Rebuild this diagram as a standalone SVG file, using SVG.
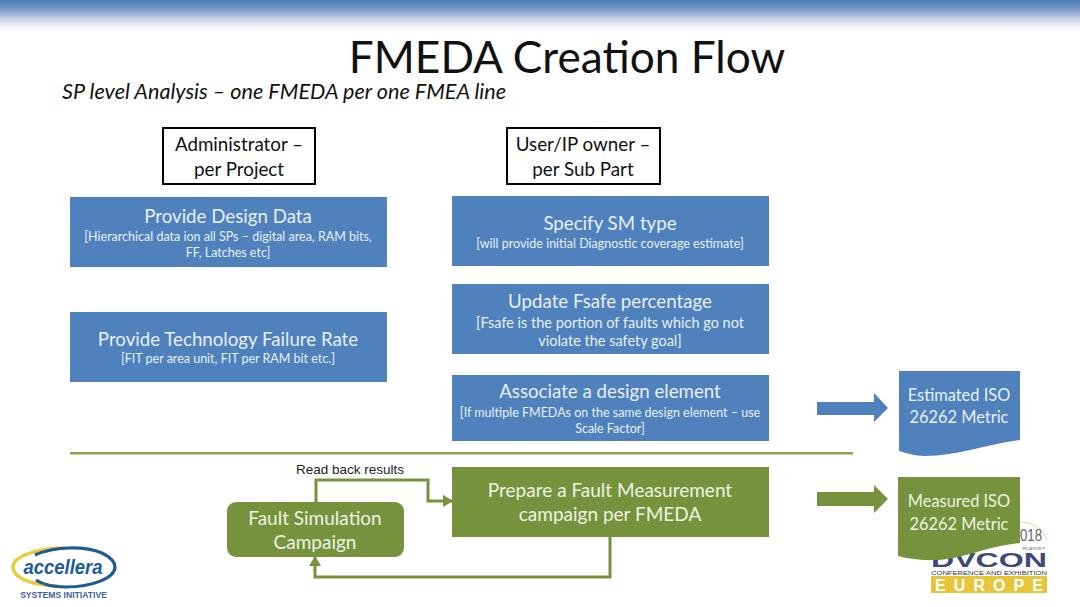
<svg xmlns="http://www.w3.org/2000/svg" width="1080" height="607" viewBox="0 0 1080 607">
<style>
.t{font-family:Lato,"Liberation Sans",sans-serif;text-anchor:middle}
.a{font-family:"Liberation Sans",sans-serif;text-anchor:middle}
.h{font-size:18.7px;fill:#e8eff8}
.g{font-size:19px;fill:#eef3e4}
.s{font-size:12.5px;fill:#e8eff8}
.f{font-size:14.5px;fill:#e8eff8}
.k{font-size:18.8px;fill:#111}
.m{font-size:16.4px}
.box{fill:#4f81bd}
.grn{fill:#76923c}
.lab{fill:#fff;stroke:#000;stroke-width:2}
.conn{fill:none;stroke:#76923c;stroke-width:3}
</style>
<defs>
<linearGradient id="top" x1="0" y1="0" x2="0" y2="1">
<stop offset="0" stop-color="#4a7dbd"/><stop offset=".3" stop-color="#7f9cc8"/><stop offset=".55" stop-color="#c3cde2"/><stop offset=".8" stop-color="#f1f3f8"/><stop offset="1" stop-color="#fff"/>
</linearGradient>
<marker id="ah" markerUnits="userSpaceOnUse" markerWidth="10" markerHeight="12" refX="9" refY="6" orient="auto"><path d="M0 0L10 6L0 12Z" fill="#76923c"/></marker>
</defs>
<rect width="1080" height="607" fill="#fff"/>
<rect width="1080" height="33" fill="url(#top)"/>
<text class="t" x="567" y="73" font-size="44.2" fill="#111">FMEDA Creation Flow</text>
<text x="62" y="99" font-family="Lato,'Liberation Sans',sans-serif" font-style="italic" font-size="21.6" fill="#111">SP level Analysis – one FMEDA per one FMEA line</text>
<rect x="70" y="452" width="783" height="2.5" fill="#8fa552"/>

<g id="logo-accellera">
<path d="M58 586C28 585 13 577 13 567C13 556 38 548 66 548" fill="none" stroke="#e6cf3e" stroke-width="3.5"/>
<path d="M35 555C55 546 85 546 102 553C112 558 115 563 115 567C115 578 92 587 66 587C52 587 42 584 36 580" fill="none" stroke="#1d5a96" stroke-width="3.2"/>
<text class="a" x="63" y="574" font-size="20.5" font-weight="700" font-style="italic" fill="#1d5a96" textLength="79" lengthAdjust="spacingAndGlyphs">accellera</text>
<text class="a" x="63.500" y="598" font-size="8.6" font-weight="700" fill="#3d6596">SYSTEMS INITIATIVE</text>
</g>
<g id="logo-dvcon">
<path d="M1012 522C1032 520 1044 528 1047 541" fill="none" stroke="#e0dba0" stroke-width="1"/>
<text class="a" x="1031" y="541" font-size="17" fill="#666" textLength="22" lengthAdjust="spacingAndGlyphs">018</text>
<text class="a" x="1034" y="549.500" font-size="4" fill="#555">FICATION™</text>
<text class="a" x="989" y="567" font-size="20" font-weight="700" fill="#3b4a7a" textLength="116" lengthAdjust="spacingAndGlyphs">DVCON</text>
<text class="a" x="989" y="574.500" font-size="5.5" fill="#333" textLength="116" lengthAdjust="spacingAndGlyphs">CONFERENCE AND EXHIBITION</text>
<rect x="931" y="576" width="116" height="17" fill="#e7c53a"/>
<text class="a" x="989" y="591" font-size="16" font-weight="700" fill="#fff" textLength="108" lengthAdjust="spacing">EUROPE</text>
</g>

<g id="admin-label"><rect class="lab" x="163" y="128" width="152" height="56"/><text class="t k" x="239" y="151">Administrator –</text><text class="t k" x="239" y="176">per Project</text></g>
<g id="user-label"><rect class="lab" x="507" y="128" width="153" height="56"/><text class="t k" x="583" y="151">User/IP owner –</text><text class="t k" x="583" y="176">per Sub Part</text></g>

<g id="design-data"><rect class="box" x="70" y="197" width="317" height="70"/><text class="t h" x="228" y="223">Provide Design Data</text><text class="t s" x="228" y="241">[Hierarchical data ion all SPs – digital area, RAM bits,</text><text class="t s" x="228" y="257">FF, Latches etc]</text></g>
<g id="failure-rate"><rect class="box" x="70" y="312" width="317" height="70"/><text class="t h" x="228" y="346">Provide Technology Failure Rate</text><text class="t s" x="228" y="363">[FIT per area unit, FIT per RAM bit etc.]</text></g>
<g id="sm-type"><rect class="box" x="452" y="196" width="317" height="70"/><text class="t h" x="610" y="230">Specify SM type</text><text class="t s" x="610" y="248">[will provide initial Diagnostic coverage estimate]</text></g>
<g id="fsafe"><rect class="box" x="452" y="284" width="317" height="70"/><text class="t h" x="610" y="308">Update Fsafe percentage</text><text class="t f" x="610" y="328">[Fsafe is the portion of faults which go not</text><text class="t f" x="610" y="346">violate the safety goal]</text></g>
<g id="design-element"><rect class="box" x="452" y="375" width="317" height="66"/><text class="t h" x="610" y="398">Associate a design element</text><text class="t s" x="610" y="417">[If multiple FMEDAs on the same design element – use</text><text class="t s" x="610" y="433">Scale Factor]</text></g>
<g id="fault-measurement"><rect class="grn" x="452" y="467" width="317" height="70"/><text class="t g" x="610" y="497">Prepare a Fault Measurement</text><text class="t g" x="610" y="521">campaign per FMEDA</text></g>
<g id="fault-simulation"><rect class="grn" x="227" y="502" width="177" height="55" rx="9"/><text class="t g" x="315" y="525">Fault Simulation</text><text class="t g" x="315" y="549">Campaign</text></g>

<g id="estimated"><path class="box" d="M899 371H1020V440C990 443 958 456 925 456C915 456 906 453 899 451Z"/><text class="t m" x="959" y="401" fill="#e8eff8">Estimated ISO</text><text class="t m" x="959" y="423" fill="#e8eff8">26262 Metric</text></g>
<g id="measured"><path class="grn" d="M898 477H1020V543C985 546 960 561 930 560C917 560 906 558 898 556Z"/><text class="t m" x="959" y="507" fill="#eef3e4">Measured ISO</text><text class="t m" x="959" y="530" fill="#eef3e4">26262 Metric</text></g>

<g id="connectors">
<path class="box" d="M817 402H874V393L888 408L874 422V415H817Z"/>
<path class="grn" d="M817 492H874V485L888 499L874 513V506H817Z"/>
<path class="conn" d="M316 502V480H428V501H452" marker-end="url(#ah)"/>
<path class="conn" d="M610 537V577H315V557" marker-end="url(#ah)"/>
<text class="a" x="350" y="473.500" font-size="13.500" fill="#222">Read back results</text>
</g>
</svg>
